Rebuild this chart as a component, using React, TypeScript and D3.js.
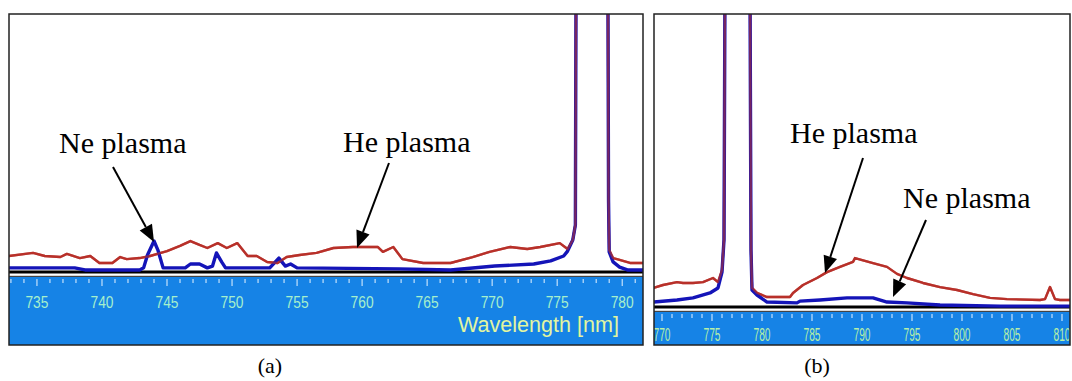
import React from 'react';
import * as d3 from 'd3';

// intensities in a.u. (0 = baseline, 1000 = top of frame)
const heA: [number, number][] = [
  [732.8, 62], [734.7, 74], [735.6, 62], [736.8, 58], [737.3, 70], [738.3, 54], [739.1, 62],
  [739.8, 35], [740.8, 35], [741.4, 58], [741.9, 50], [742.9, 54], [743.7, 62], [745.0, 81],
  [746.0, 101], [746.8, 120], [747.5, 105], [748.1, 93], [748.9, 112], [749.6, 93], [750.4, 112],
  [751.2, 62], [751.9, 62], [752.7, 39], [753.5, 35], [754.2, 58], [755.2, 66], [756.5, 74],
  [757.8, 93], [759.3, 97], [761.2, 97], [761.6, 78], [762.4, 97], [763.1, 50], [764.7, 35],
  [766.8, 35], [768.5, 58], [769.8, 78], [771.4, 97], [772.7, 89], [773.7, 97], [775.2, 112],
  [775.8, 89], [776.2, 124], [776.4, 182], [776.5, 2000], [777.6, 3000], [778.85, 2000],
  [778.95, 279], [779.0, 85], [779.3, 54], [779.6, 50], [780.6, 35], [781.7, 35],
];
const neA: [number, number][] = [
  [732.8, 16], [737.9, 16], [738.7, 8], [742.9, 8], [743.2, 16], [743.5, 66], [744.0, 120],
  [744.3, 85], [744.7, 16], [746.4, 16], [746.8, 31], [747.5, 31], [748.1, 16], [748.5, 23],
  [748.8, 74], [749.2, 39], [749.5, 16], [752.9, 16], [753.6, 54], [754.1, 23], [754.5, 31],
  [755.0, 16], [762.9, 12], [766.8, 8], [770.2, 23], [773.2, 31], [774.5, 43], [775.5, 62],
  [775.8, 81], [776.2, 124], [776.4, 182], [776.5, 2000], [777.6, 3000], [778.85, 2000],
  [778.95, 279], [779.0, 78], [779.3, 39], [779.8, 19], [780.4, 8], [781.7, 8],
];
const heB: [number, number][] = [
  [769.1, 65], [770.1, 75], [771.5, 85], [772.1, 82], [773.1, 82], [774.1, 85], [775.1, 99],
  [775.6, 85], [776.0, 126], [776.2, 229], [776.4, 2000], [777.5, 3000], [778.7, 2000],
  [778.9, 195], [779.0, 65], [779.5, 48], [780.5, 34], [781.5, 34], [782.8, 34], [783.1, 48],
  [784.1, 75], [785.5, 99], [786.5, 119], [787.8, 137], [789.1, 154], [789.3, 167], [791.1, 150],
  [792.5, 137], [793.5, 113], [794.5, 99], [796.1, 82], [797.8, 68], [799.5, 58], [801.1, 44],
  [802.8, 31], [804.5, 27], [807.8, 24], [808.3, 27], [808.8, 68], [809.3, 27], [809.8, 24],
  [810.9, 24],
];
const neB: [number, number][] = [
  [769.1, 17], [771.5, 24], [773.1, 31], [774.8, 48], [775.6, 65], [776.0, 119], [776.2, 229],
  [776.4, 2000], [777.5, 3000], [778.7, 2000], [778.9, 195], [779.0, 58], [779.5, 41],
  [780.5, 17], [783.5, 14], [783.8, 20], [785.8, 24], [788.5, 31], [791.1, 31], [792.5, 17],
  [794.5, 14], [797.8, 7], [803.8, 3], [810.9, 3],
];
const labelsA = [735, 740, 745, 750, 755, 760, 765, 770, 775, 780];
const labelsB = [770, 775, 780, 785, 790, 795, 800, 805, 810];

const RED = '#b8302a';
const BLUE = '#1414b8';
const BAND = '#1683e6';

type PanelProps = {
  id: string;
  left: number; right: number; top: number; bottom: number;
  base: number; band: number;
  nm: [number, number];
  he: [number, number][];
  ne: [number, number][];
  labels: number[];
  labelColor: string; labelSize: number; labelWidth: number; labelY: number;
  xTitle?: string;
};

const Arrow = ({ x1, y1, x2, y2 }: { x1: number; y1: number; x2: number; y2: number }) => {
  const dx = x2 - x1, dy = y2 - y1;
  const len = Math.hypot(dx, dy);
  const ux = dx / len, uy = dy / len;
  const hl = 17, hw = 7;
  const bx = x2 - ux * hl, by = y2 - uy * hl;
  const pts = [[x2, y2], [bx - uy * hw, by + ux * hw], [bx + uy * hw, by - ux * hw]];
  return (
    <g>
      <line x1={x1} y1={y1} x2={bx} y2={by} stroke="#000" strokeWidth={2} />
      <polygon points={pts.map(p => p.join(',')).join(' ')} fill="#000" />
    </g>
  );
};

const Panel = (p: PanelProps) => {
  const x = d3.scaleLinear().domain(p.nm).range([p.left, p.right]);
  const y = d3.scaleLinear().domain([0, 1000]).range([p.base, p.top]);
  const line = d3.line<[number, number]>().x(d => x(d[0])).y(d => y(d[1]));
  const minor = d3.range(Math.ceil(p.nm[0]), Math.floor(p.nm[1]) + 1);
  return (
    <g>
      <defs>
        <clipPath id={p.id + '-plot'}>
          <rect x={p.left} y={p.top} width={p.right - p.left} height={p.base - p.top + 1} />
        </clipPath>
        <clipPath id={p.id + '-all'}>
          <rect x={p.left} y={p.top} width={p.right - p.left} height={p.bottom - p.top} />
        </clipPath>
      </defs>
      <rect x={p.left} y={p.top} width={p.right - p.left} height={p.bottom - p.top} fill="#fff" />
      <g clipPath={`url(#${p.id}-all)`}>
        <rect x={p.left} y={p.band} width={p.right - p.left} height={p.bottom - p.band} fill={BAND} />
        <rect x={p.left} y={p.base - 1.5} width={p.right - p.left} height={3} fill="#000" />
        <rect x={p.left} y={p.band - 1.2} width={p.right - p.left} height={1.2} fill="#444" />
        {minor.map(v => (
          <line key={v} x1={x(v)} x2={x(v)} y1={p.band + 2} y2={p.band + (v % 5 === 0 ? 9 : 6)}
            stroke="#e8f4ff" strokeWidth={1} />
        ))}
        {p.labels.map(v => (
          <text key={v} x={x(v)} y={p.labelY} textAnchor="middle" fill={p.labelColor}
            fontFamily="'Liberation Sans', Arial, sans-serif" fontSize={p.labelSize}
            textLength={p.labelWidth} lengthAdjust="spacingAndGlyphs">{v}</text>
        ))}
        {p.xTitle && (
          <text x={p.right - 24} y={p.bottom - 13} textAnchor="end" fill="#e2f5a0"
            fontFamily="'Liberation Sans', Arial, sans-serif" fontSize={22}
            textLength={161} lengthAdjust="spacingAndGlyphs">{p.xTitle}</text>
        )}
      </g>
      <g clipPath={`url(#${p.id}-plot)`} fill="none" strokeLinejoin="round">
        <path d={line(p.he) ?? ''} stroke={RED} strokeWidth={2.4} />
        <path d={line(p.ne) ?? ''} stroke={BLUE} strokeWidth={3.4} />
        <path d={line(p.he) ?? ''} stroke={RED} strokeWidth={2.4} strokeOpacity={0.6} />
      </g>
      <rect x={p.left} y={p.top} width={p.right - p.left} height={p.bottom - p.top}
        fill="none" stroke="#222" strokeWidth={1.5} />
    </g>
  );
};

const serif = "'Liberation Serif', 'Times New Roman', serif";

export default function App() {
  return (
    <div style={{ position: 'absolute', left: 0, top: 0 }}>
      <svg width={1072} height={381} style={{ display: 'block', background: '#fff' }}>
        <Panel id="a" left={9} right={643} top={14} bottom={345} base={272} band={277}
          nm={[732.85, 781.6]} he={heA} ne={neA} labels={labelsA}
          labelColor="#a6f0cc" labelSize={17} labelWidth={23} labelY={308}
          xTitle="Wavelength [nm]" />
        <Panel id="b" left={654} right={1070} top={14} bottom={345} base={307} band={312}
          nm={[769.2, 810.8]} he={heB} ne={neB} labels={labelsB}
          labelColor="#b8f0a6" labelSize={18} labelWidth={17} labelY={341} />

        <g fontFamily={serif} fontSize={30} fill="#000">
          <text x={59} y={153}>Ne plasma</text>
          <text x={343} y={152}>He plasma</text>
          <text x={790} y={143}>He plasma</text>
          <text x={903} y={208}>Ne plasma</text>
        </g>
        <Arrow x1={113} y1={167} x2={154} y2={242} />
        <Arrow x1={389} y1={163} x2={357} y2={248} />
        <Arrow x1={863} y1={158} x2={825} y2={273} />
        <Arrow x1={926} y1={220} x2={893} y2={297} />

        <g fontFamily={serif} fontSize={22} fill="#000" textAnchor="middle">
          <text x={270} y={373}>(a)</text>
          <text x={817} y={373}>(b)</text>
        </g>
      </svg>
    </div>
  );
}
